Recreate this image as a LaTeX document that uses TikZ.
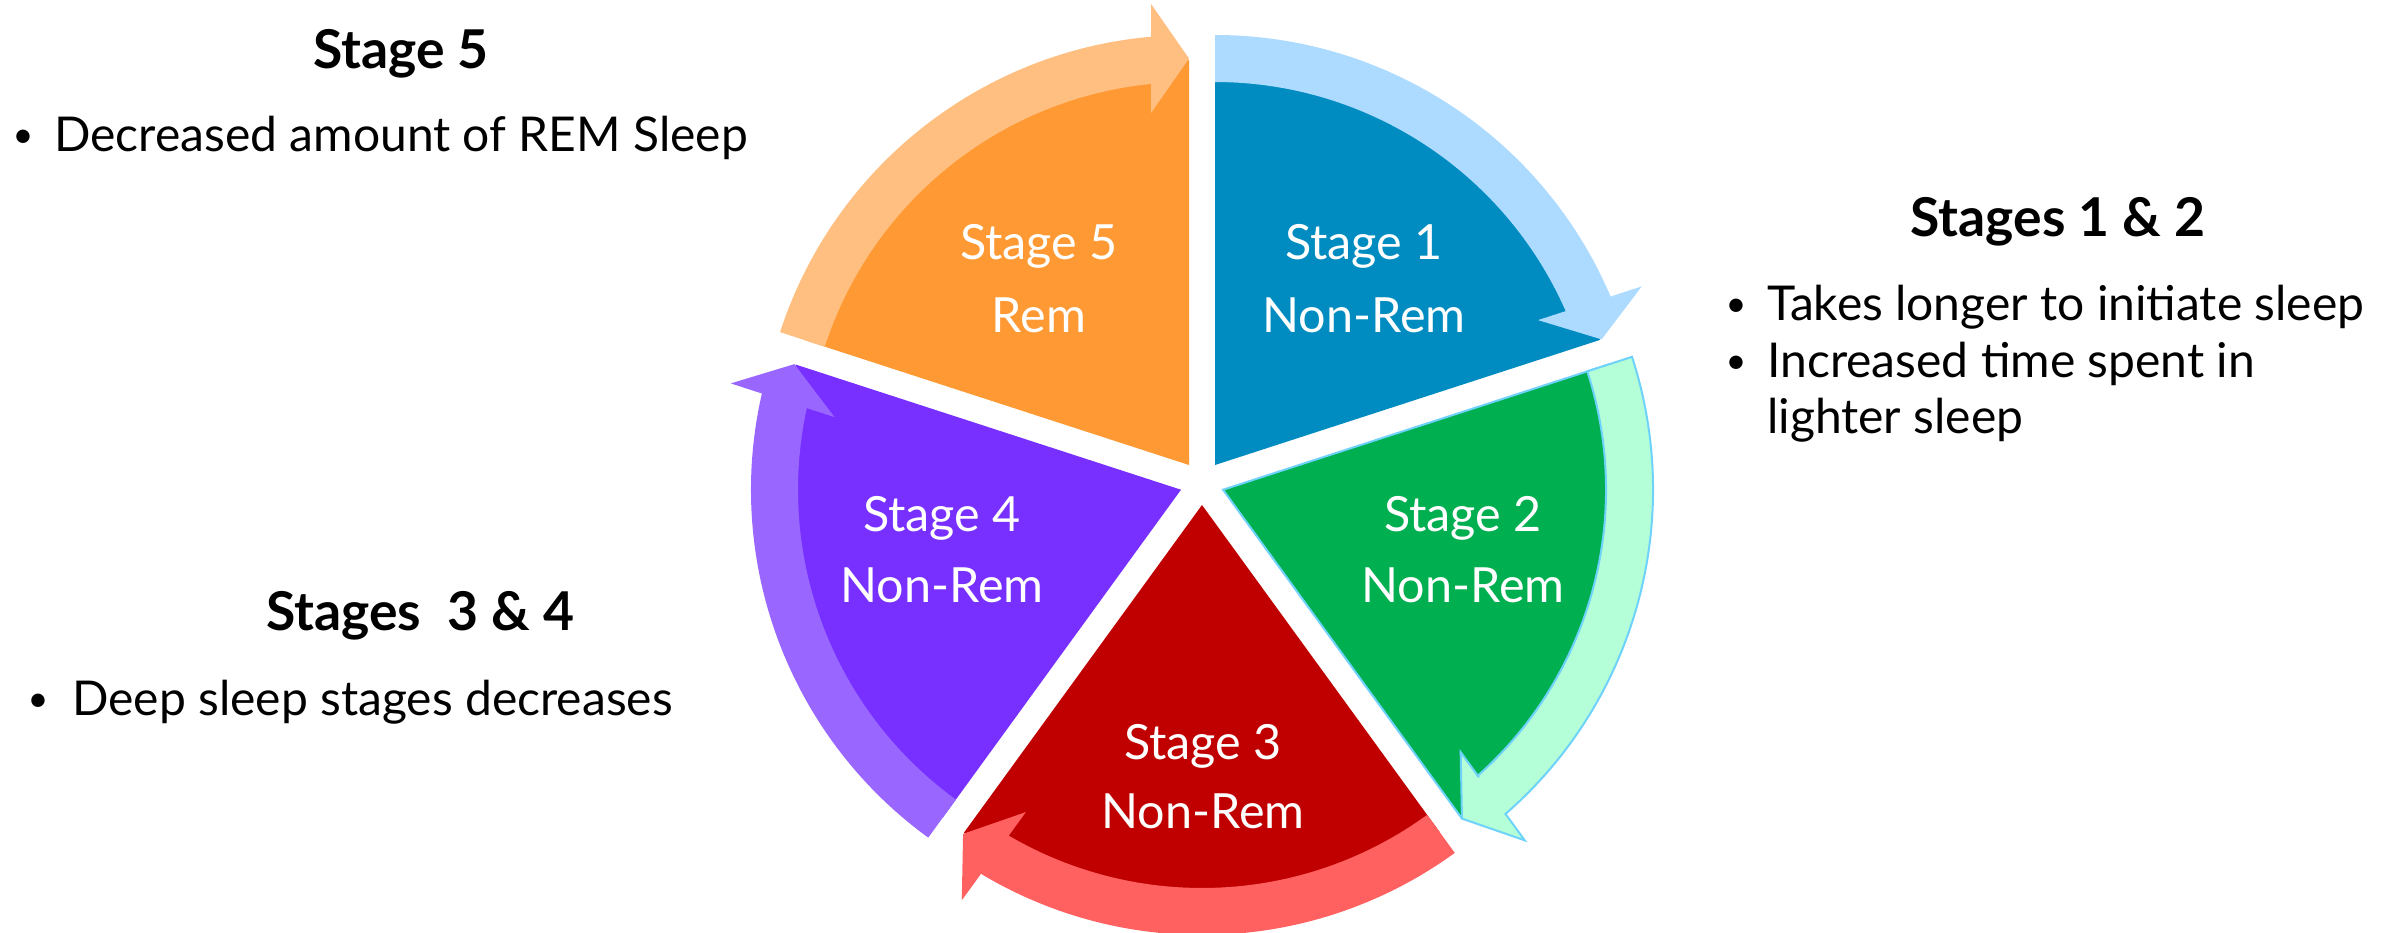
\documentclass[tikz,border=0pt]{standalone}
\usepackage{fontspec}
\setmainfont{Lato}
\usetikzlibrary{calc}
\definecolor{wOne}{RGB}{0,140,193}
\definecolor{bOne}{RGB}{173,218,255}
\definecolor{wTwo}{RGB}{0,175,80}
\definecolor{bTwo}{RGB}{180,255,216}
\definecolor{lTwo}{RGB}{110,210,250}
\definecolor{wThree}{RGB}{192,0,0}
\definecolor{bThree}{RGB}{255,97,97}
\definecolor{wFour}{RGB}{119,48,255}
\definecolor{bFour}{RGB}{153,102,255}
\definecolor{wFive}{RGB}{255,153,51}
\definecolor{bFive}{RGB}{255,191,128}
\newcommand{\stagewedge}[3]{%
  \pgfmathsetmacro{\wa}{#2+36}\pgfmathsetmacro{\wb}{#2-36}%
  \path[#3] (#1) -- ($(#1)+(\wa:405pt)$) arc[start angle=\wa, end angle=\wb, radius=405pt] -- cycle;}
\newcommand{\cycarrow}[3]{%
  \pgfmathsetmacro{\cyA}{#2+36}%
  \pgfmathsetmacro{\cyP}{#2-36}%
  \pgfmathsetmacro{\cyO}{#2-36+5.05}%
  \pgfmathsetmacro{\cyI}{#2-36+5.67}%
  \pgfmathsetmacro{\cyN}{#2-36+90}%
  \path[#3] ($(#1)+(\cyA:430pt)$) arc[start angle=\cyA, end angle=\cyO, radius=430pt]
    -- ($(#1)+(\cyP:430pt)+(\cyN:38pt)$) -- ($(#1)+(\cyP:461pt)+(\cyN:38pt)$)
    -- ($(#1)+(\cyP:406.5pt)$)
    -- ($(#1)+(\cyP:352pt)+(\cyN:38pt)$) -- ($(#1)+(\cyP:383pt)+(\cyN:38pt)$)
    -- ($(#1)+(\cyI:383pt)$) arc[start angle=\cyI, end angle=\cyA, radius=383pt] -- cycle;}
\begin{document}
\begin{tikzpicture}[x=1pt,y=1pt,
  wlabel/.style={text=white, font=\fontsize{48.5}{58}\selectfont, inner sep=0pt, anchor=base},
  headtext/.style={font=\bfseries\fontsize{53.5}{64}\selectfont, inner sep=0pt, anchor=base},
  bodytext/.style={font=\fontsize{48}{58}\selectfont, inner sep=0pt, anchor=base west},
  bullettext/.style={font=\fontsize{36}{44}\selectfont, inner sep=0pt, anchor=base}]
\useasboundingbox (0,0) rectangle (2403,932);
\coordinate (C) at (1202,449.1);
\foreach \n/\t in {1/54,2/-18,3/-90,4/-162,5/126}
  \coordinate (A\n) at ($(C)+(\t:22.1pt)$);
% wedges
\stagewedge{A1}{54}{fill=wOne}
\stagewedge{A2}{-18}{fill=wTwo, draw=lTwo, line width=2pt}
\stagewedge{A3}{-90}{fill=wThree}
\stagewedge{A4}{-162}{fill=wFour}
\stagewedge{A5}{126}{fill=wFive}
% arrows
\cycarrow{A1}{54}{fill=bOne}
\cycarrow{A2}{-18}{fill=bTwo, draw=lTwo, line width=2pt}
\cycarrow{A3}{-90}{fill=bThree}
\cycarrow{A4}{-162}{fill=bFour}
\cycarrow{A5}{126}{fill=bFive}
% wedge labels
\node[wlabel] (s1a) at (1364,672) {Stage 1};
\node[wlabel] (s1b) at (1364,599) {Non-Rem};
\node[wlabel] (s2a) at (1463,400) {Stage 2};
\node[wlabel] (s2b) at (1463,329) {Non-Rem};
\node[wlabel] (s3a) at (1203,173) {Stage 3};
\node[wlabel] (s3b) at (1203,104) {Non-Rem};
\node[wlabel] (s4a) at (942,400) {Stage 4};
\node[wlabel] (s4b) at (942,329) {Non-Rem};
\node[wlabel] (s5a) at (1039,672) {Stage 5};
\node[wlabel] (s5b) at (1039,599) {Rem};
% side texts
\node[headtext] (h5) at (401,863) {Stage 5};
\node[bullettext] (b5) at (23,784) {•};
\node[bodytext] (t5) at (54,780) {Decreased amount of REM Sleep};
\node[headtext] (h12) at (2058,695) {Stages 1 \& 2};
\node[bullettext] (b12a) at (1736,615) {•};
\node[bodytext] (t12a) at (1767,611) {Takes longer to initiate sleep};
\node[bullettext] (b12b) at (1736,558) {•};
\node[bodytext] (t12b) at (1767,554) {Increased time spent in};
\node[bodytext] (t12c) at (1767,498) {lighter sleep};
\node[headtext] (h34) at (420,301) {Stages\ \ 3 \& 4};
\node[bullettext] (b34) at (38,220) {•};
\node[bodytext] (t34) at (72,216) {Deep sleep stages decreases};
\end{tikzpicture}
\end{document}
